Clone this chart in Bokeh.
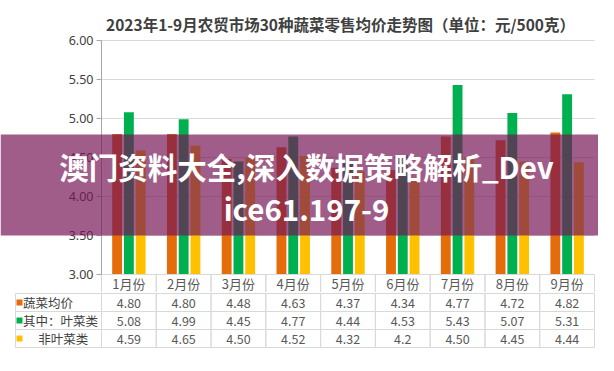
from bokeh.plotting import figure
from bokeh.layouts import column
from bokeh.models import Range1d, FixedTicker, NumeralTickFormatter, BoxAnnotation, Label, ColumnDataSource
from bokeh.embed import file_html
from bokeh.resources import INLINE
from bokeh.core.properties import value

# ---------------- data ----------------
months = ["1月份", "2月份", "3月份", "4月份", "5月份", "6月份", "7月份", "8月份", "9月份"]
series_names = ["蔬菜均价", "其中：叶菜类", "\u3000 非叶菜类"]
veg_avg = [4.80, 4.80, 4.48, 4.63, 4.37, 4.34, 4.77, 4.72, 4.82]
leafy = [5.08, 4.99, 4.45, 4.77, 4.44, 4.53, 5.43, 5.07, 5.31]
non_leafy = [4.59, 4.65, 4.50, 4.52, 4.32, 4.20, 4.50, 4.45, 4.44]
veg_avg_text = ["4.80", "4.80", "4.48", "4.63", "4.37", "4.34", "4.77", "4.72", "4.82"]
leafy_text = ["5.08", "4.99", "4.45", "4.77", "4.44", "4.53", "5.43", "5.07", "5.31"]
non_leafy_text = ["4.59", "4.65", "4.50", "4.52", "4.32", "4.2", "4.50", "4.45", "4.44"]
y_ticks = [3.0, 3.5, 4.0, 4.5, 5.0, 5.5, 6.0]
title_text = "2023年1-9月农贸市场30种蔬菜零售均价走势图（单位：元/500克）"
overlay_lines = ["澳门资料大全,深入数据策略解析_Dev", "ice61.197-9"]

colors = ["#E46C0A", "#00B050", "#FFC000"]
series = [veg_avg, leafy, non_leafy]
series_text = [veg_avg_text, leafy_text, non_leafy_text]
offsets = [-0.215, 0.0, 0.215]
BAR_W = 0.18
CJK = "Noto Sans CJK SC"
BORDER = "#D9D9D9"

W = 598
n = len(months)
FL, FR = 101, 594              # plot area left/right (canvas px)
YT, YB = 40, 274               # pixel rows of 6.00 and 3.00
px = (FR - FL) / n             # px per category
py = (YB - YT) / 3.0           # px per price unit
H1 = 292                       # chart canvas height (incl. header row)
ROW = 18                       # table row height px

centres = [i + 0.5 for i in range(n)]
x_range = Range1d(-FL / px, (W - FL) / px)

# ---------------- chart ----------------
p1 = figure(width=W, height=H1, x_range=x_range,
            y_range=Range1d(6 - (H1 - YT) / py, 6 + YT / py),
            output_backend="svg", toolbar_location=None,
            min_border_left=0, min_border_right=0, min_border_top=0, min_border_bottom=0)
p1.outline_line_color = None
p1.xaxis.visible = False
p1.grid.visible = False

ax = p1.yaxis[0]
ax.fixed_location = 0
ax.bounds = (3, 6)
ax.ticker = FixedTicker(ticks=y_ticks)
ax.formatter = NumeralTickFormatter(format="0.00")
ax.axis_line_color = "#A6A6A6"
ax.major_tick_line_color = "#A6A6A6"
ax.major_tick_out = 5
ax.major_tick_in = 0
ax.minor_tick_line_color = None
ax.major_label_standoff = 3
ax.major_label_text_font = "Noto Sans"
ax.major_label_text_font_size = "12.5px"
ax.major_label_text_color = "#404040"

# horizontal gridlines over the plot area only
p1.segment(x0=0, x1=n, y0=y_ticks, y1=y_ticks, line_color=BORDER, line_width=1, level="underlay")

for vals, col, off in zip(series, colors, offsets):
    src = ColumnDataSource(dict(x=[c + off for c in centres], top=vals))
    p1.vbar(x="x", top="top", bottom=3, width=BAR_W, source=src, fill_color=col, line_color=None)

# header row of the data table (month names)
hy = 3 - (ROW / 2) / py
hdr = ColumnDataSource(dict(x=centres, y=[hy] * n, t=months))
p1.rect(x="x", y="y", width=1, height=ROW / py, source=hdr, fill_color=None, line_color=BORDER)
p1.text(x="x", y="y", text="t", source=hdr, text_align="center", text_baseline="middle",
        text_font=value(CJK), text_font_size="13px", text_color="#595959")

p1.add_layout(Label(x=340, y=23, x_units="canvas", y_units="canvas", text=title_text,
                    text_align="center", text_baseline="middle",
                    text_font=CJK, text_font_style="bold", text_font_size="15.5px",
                    text_color="#404040"))

# overlay band
p1.add_layout(BoxAnnotation(left=0, right=W, top=134, bottom=235,
                            left_units="canvas", right_units="canvas",
                            top_units="canvas", bottom_units="canvas",
                            fill_color="#751455", fill_alpha=0.69, line_color=None,
                            level="overlay"))
for line, ypix in zip(overlay_lines, [165, 207]):
    p1.add_layout(Label(x=306, y=ypix, x_units="canvas", y_units="canvas", text=line,
                        text_align="center", text_baseline="middle",
                        text_font=CJK, text_font_style="bold", text_font_size="29.5px",
                        text_color="white", level="overlay"))

# ---------------- table body ----------------
H2 = 62
lab_w = (FL - 15) / px
p2 = figure(width=W, height=H2, x_range=x_range,
            y_range=Range1d(3 + 1 / ROW - H2 / ROW, 3 + 1 / ROW),
            output_backend="svg", toolbar_location=None,
            min_border_left=0, min_border_right=0, min_border_top=0, min_border_bottom=0)
p2.outline_line_color = None
p2.axis.visible = False
p2.grid.visible = False

rows_y = [2.5, 1.5, 0.5]
for name, col, txt, ry in zip(series_names, colors, series_text, rows_y):
    p2.rect(x=-lab_w / 2, y=ry, width=lab_w, height=1, fill_color=None, line_color=BORDER)
    p2.scatter(x=[-lab_w + 4 / px], y=[ry], marker="square", size=6, fill_color=col, line_color=None)
    p2.text(x=[-lab_w + 7.5 / px], y=[ry], text=[name], text_align="left", text_baseline="middle",
            text_font=value(CJK), text_font_size="12.5px", text_color="#404040")
    src = ColumnDataSource(dict(x=centres, y=[ry] * n, t=txt))
    p2.rect(x="x", y="y", width=1, height=1, source=src, fill_color=None, line_color=BORDER)
    p2.text(x="x", y="y", text="t", source=src, text_align="center", text_baseline="middle",
            text_font=value(CJK), text_font_size="12.5px", text_color="#595959")

layout = column(p1, p2, spacing=0)
open("out.html", "w").write(file_html(layout, INLINE))
